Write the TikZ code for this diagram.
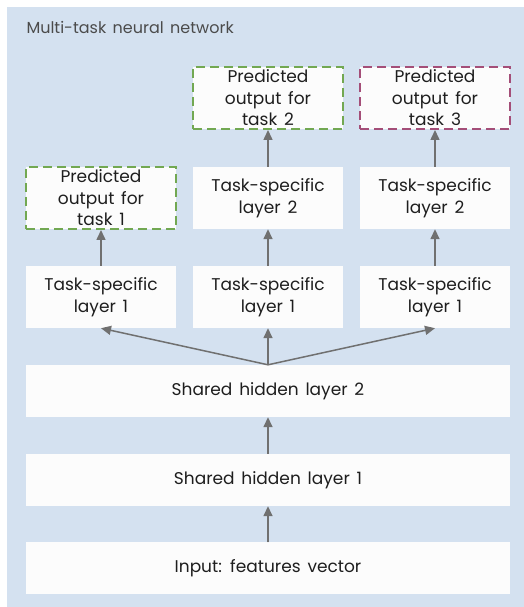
\documentclass[tikz,border=0pt]{standalone}
\usepackage{fontspec}
\setmainfont[WordSpace=1.5]{Poppins}
\usetikzlibrary{positioning,arrows.meta}

\definecolor{bgblue}{RGB}{212,225,240}
\definecolor{boxwhite}{RGB}{252,252,252}
\definecolor{arrowgray}{RGB}{112,112,112}
\definecolor{taskgreen}{RGB}{114,168,82}
\definecolor{taskplum}{RGB}{164,78,120}
\definecolor{textgray}{RGB}{30,30,30}

\begin{document}
\begin{tikzpicture}[x=1pt, y=1pt,
    layer/.style={fill=boxwhite, inner sep=0pt, align=center, text=textgray,
        font=\fontsize{17}{21.5}\selectfont},
    wide/.style={layer, minimum width=484pt, minimum height=52pt},
    narrow/.style={layer, minimum width=150pt, minimum height=62pt},
    output/.style={narrow, draw=#1, dashed, dash pattern=on 9pt off 5pt, line width=2pt},
    arr/.style={draw=arrowgray, line width=1.5pt, -{Triangle[length=10pt,width=9pt]}, fill=arrowgray}
]
    \useasboundingbox (0,0) rectangle (524,607);
    \fill[bgblue] (7,0) rectangle (524,600);
    \node[anchor=west, text=textgray!80, font=\fontsize{16}{20}\selectfont] (title) at (23,580) {Multi-task neural network};

    % Shared layers
    \node[wide] (input) at (268,38.5) {Input: features vector};
    \node[wide] (shared1) at (268,127) {Shared hidden layer 1};
    \node[wide] (shared2) at (268,216) {Shared hidden layer 2};

    % Task-specific layers
    \foreach \x/\n in {101/a,268/b,435/c}
        \node[narrow] (lay1\n) at (\x,310) {Task-specific\\layer 1};
    \node[narrow] (lay2b) at (268,409) {Task-specific\\layer 2};
    \node[narrow] (lay2c) at (435,409) {Task-specific\\layer 2};

    % Outputs
    \node[output=taskgreen] (outa) at (101,409) {Predicted\\output for\\task 1};
    \node[output=taskgreen] (outb) at (268,509) {Predicted\\output for\\task 2};
    \node[output=taskplum] (outc) at (435,509) {Predicted\\output for\\task 3};

    % Arrows
    \draw[arr] (input) -- (shared1);
    \draw[arr] (shared1) -- (shared2);
    \foreach \n in {a,b,c}
        \draw[arr] (shared2.north) -- (lay1\n.south);
    \draw[arr] (lay1a) -- (outa);
    \draw[arr] (lay1b) -- (lay2b);
    \draw[arr] (lay1c) -- (lay2c);
    \draw[arr] (lay2b) -- (outb);
    \draw[arr] (lay2c) -- (outc);
\end{tikzpicture}
\end{document}
